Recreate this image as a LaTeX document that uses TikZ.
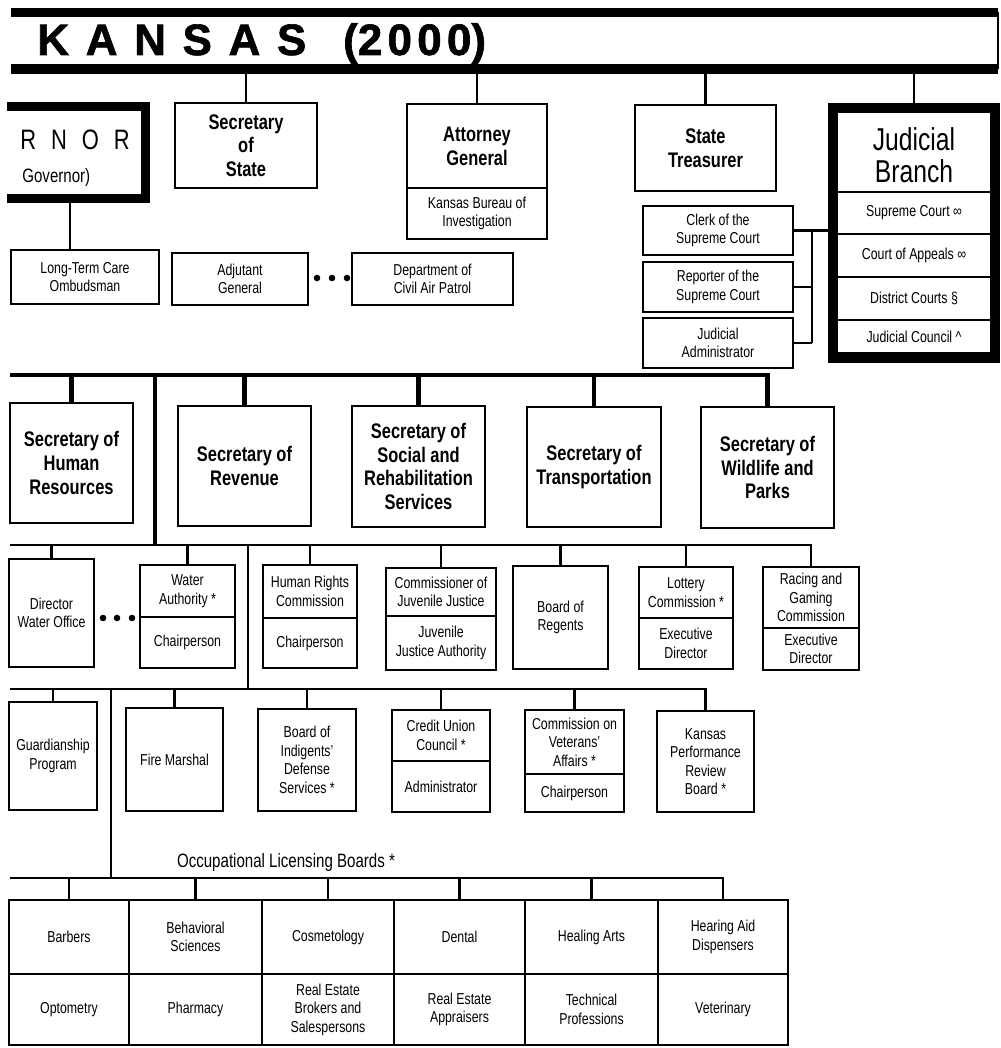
\documentclass[tikz,border=0pt]{standalone}
\usepackage{fontspec}
\setmainfont{Liberation Sans}[FakeStretch=0.78]
\newfontfamily\titlefont{Liberation Sans}[UprightFont={* Bold}, FakeBold=1.5]
\newcommand{\kgap}{\hspace{9.5pt}}
\tikzset{
  org/.style={draw, line width=0.55mm, inner sep=0pt, outer sep=0pt, align=center, font=\fontsize{9}{10.5}\selectfont},
  sz/.style 2 args={minimum width=#1*0.2mm, minimum height=#2*0.2mm},
  secbox/.style={org, font=\fontsize{12}{13.5}\selectfont\bfseries},
  link/.style={line width=0.5mm},
  trunk/.style={line width=0.9mm},
}
\begin{document}
\begin{tikzpicture}[x=0.2mm, y=-0.2mm] %Organograma
\useasboundingbox (0,0) rectangle (1000,1048);
\clip (7,0) rectangle (1000,1048);
	%Faixa do titulo
\coordinate (frTL) at (11,12.5); \coordinate (frTR) at (998,12.5);
\coordinate (frBL) at (11,69); \coordinate (frBR) at (998,69);
\draw[line width=1.8mm] (frTL) -- (frTR);
\draw[line width=2mm] (frBL) -- (frBR);
\draw[link] (frTR) -- (frBR);
\node[anchor=base west, inner sep=0pt, font=\titlefont\fontsize{25}{25}\selectfont] (title) at (37,55) {K\kgap A\kgap N\kgap S\kgap A\kgap S\hspace{21pt}(2\kern3pt0\kern3pt0\kern3pt0)};
	%Primeira linha
\node[draw, line width=1.8mm, sz={185}{92}, inner sep=0pt] (gov) at (52.5,152.5) {};
\node[anchor=west, inner sep=0pt, font=\fontsize{16}{16}\selectfont] (govname) at (20,140) {R\hspace{8.5pt}N\hspace{8.5pt}O\hspace{8.5pt}R};
\node[anchor=west, inner sep=0pt, font=\fontsize{11}{11}\selectfont] (govsub) at (22,177) {Governor)};
\node[secbox, sz={142}{85}] (sos) at (246,145.5) {Secretary\\of\\State};
\node[secbox, sz={140}{84}] (ag) at (477,146) {Attorney\\General};
\node[org, sz={140}{51}, anchor=north] (kbi) at (ag.south) {Kansas Bureau of\\Investigation};
\node[secbox, sz={141}{86}] (treas) at (705.5,148) {State\\Treasurer};
\node[org, sz={156}{42}] (jsc) at (914,213) {Supreme Court ∞};
\node[org, sz={156}{43}] (jca) at (914,255.5) {Court of Appeals ∞};
\node[org, sz={156}{43}] (jdc) at (914,298.5) {District Courts §};
\node[org, sz={156}{33}] (jjc) at (914,336.5) {Judicial Council \^{}};
\node[draw, line width=2mm, sz={162}{250}, inner sep=0pt] (jud) at (914,233) {};
\node[align=center, font=\fontsize{18}{18.5}\selectfont] (jtitle) at (914,155) {Judicial\\Branch};
	%Segunda linha
\node[org, sz={148}{54}] (ltc) at (85,277) {Long-Term Care\\Ombudsman};
\node[org, sz={136}{52}] (adj) at (240,279) {Adjutant\\General};
\foreach \d in {317,332,347} \fill (\d,278) circle (3.3);
\node[org, sz={161}{52}] (cap) at (432.5,279) {Department of\\Civil Air Patrol};
\node[org, sz={150}{49}] (clerk) at (718,230.5) {Clerk of the\\Supreme Court};
\node[org, sz={150}{50}] (reporter) at (718,287) {Reporter of the\\Supreme Court};
\node[org, sz={150}{50}] (jadmin) at (718,343) {Judicial\\Administrator};
\coordinate (jbus) at (812,230);
	%Ligacoes de cima
\draw[link] (sos.north) -- (sos.north |- frBL);
\draw[link] (ag.north) -- (ag.north |- frBL);
\draw[link] (treas.north) -- (treas.north |- frBL);
\draw[link] (jud.north) -- (jud.north |- frBL);
\draw[link] ([xshift=-3mm]ltc.north) -- ([xshift=-3mm]ltc.north |- gov.south);
\draw[link] (clerk.east) -- (clerk.east -| jud.west);
\draw[link] (reporter.east) -- (reporter.east -| jbus);
\draw[link] (jadmin.east) -- (jadmin.east -| jbus);
\draw[link] (clerk.east -| jbus) -- (jadmin.east -| jbus);
	%Secretarios
\node[secbox, sz={123}{120}] (shr) at (71.5,463) {Secretary of\\Human\\Resources};
\node[secbox, sz={133}{120}] (srev) at (244.5,466) {Secretary of\\Revenue};
\node[secbox, sz={133}{121}] (ssrs) at (418.5,466.5) {Secretary of\\Social and\\Rehabilitation\\Services};
\node[secbox, sz={134}{120}] (stra) at (594,467) {Secretary of\\Transportation};
\node[secbox, sz={133}{121}] (swlp) at (767.5,467.5) {Secretary of\\Wildlife and\\Parks};
\coordinate (exL) at (10,375); \coordinate (exJ) at (155,375);
\draw[trunk] (exL) -| (swlp.north);
\foreach \s in {shr,srev,ssrs,stra} \draw[trunk] (\s.north) -- (\s.north |- exL);
	%Terceira linha
\node[org, sz={85}{108}] (dwo) at (51.5,613) {Director\\Water Office};
\foreach \d in {103,117,132} \fill (\d,618) circle (3.3);
\node[org, sz={95}{52}] (wa) at (187.5,591) {Water\\Authority *};
\node[org, sz={95}{51}, anchor=north] (wach) at (wa.south) {Chairperson};
\node[org, sz={94}{53}] (hrc) at (310,591.5) {Human Rights\\Commission};
\node[org, sz={94}{50}, anchor=north] (hrcch) at (hrc.south) {Chairperson};
\node[org, sz={110}{48}] (cjj) at (441,592) {Commissioner of\\Juvenile Justice};
\node[org, sz={110}{54}, anchor=north] (jja) at (cjj.south) {Juvenile\\Justice Authority};
\node[org, sz={95}{103}] (bor) at (560.5,617.5) {Board of\\Regents};
\node[org, sz={94}{51}] (lot) at (686,592.5) {Lottery\\Commission *};
\node[org, sz={94}{51}, anchor=north] (lotdir) at (lot.south) {Executive\\Director};
\node[org, sz={96}{61}] (rgc) at (811,597.5) {Racing and\\Gaming\\Commission};
\node[org, sz={96}{42}, anchor=north] (rgcdir) at (rgc.south) {Executive\\Director};
\coordinate (agL) at (10,545); \coordinate (agJ) at (248,545);
\draw[trunk] (exJ) -- (exJ |- agL);
\draw[link] (agL) -| (rgc.north);
\foreach \s in {dwo,wa,hrc,cjj,bor,lot} \draw[link] (\s.north) -- (\s.north |- agL);
	%Quarta linha
\node[org, sz={88}{108}] (gdn) at (53,756) {Guardianship\\Program};
\node[org, sz={97}{103}] (fire) at (174.5,759.5) {Fire Marshal};
\node[org, sz={98}{102}] (bids) at (307,760) {Board of\\Indigents'\\Defense\\Services *};
\node[org, sz={98}{51}] (cuc) at (441,735.5) {Credit Union\\Council *};
\node[org, sz={98}{51}, anchor=north] (cuadm) at (cuc.south) {Administrator};
\node[org, sz={99}{64}] (cva) at (574.5,742) {Commission on\\Veterans'\\Affairs *};
\node[org, sz={99}{38}, anchor=north] (cvach) at (cva.south) {Chairperson};
\node[org, sz={97}{101}] (kprb) at (705.5,761.5) {Kansas\\Performance\\Review\\Board *};
\coordinate (bdL) at (10,689); \coordinate (bdJ) at (111,689);
\draw[link] (agJ) -- (agJ |- bdL);
\draw[link] (bdL) -| (kprb.north);
\foreach \s in {gdn,fire,bids,cuc,cva} \draw[link] (\s.north) -- (\s.north |- bdL);
	%Conselhos profissionais
\node[font=\fontsize{11}{11}\selectfont] (olb) at (286,862) {Occupational Licensing Boards *};
\node[org, sz={120}{74}] (brb) at (69,937) {Barbers};
\node[org, sz={133}{74}] (bhv) at (195.5,937) {Behavioral\\Sciences};
\node[org, sz={132}{74}] (cos) at (328,937) {Cosmetology};
\node[org, sz={131}{74}] (dnt) at (459.5,937) {Dental};
\node[org, sz={133}{74}] (hla) at (591.5,937) {Healing Arts};
\node[org, sz={130}{74}] (had) at (723,937) {Hearing Aid\\Dispensers};
\node[org, sz={120}{71}, anchor=north] (opt) at (brb.south) {Optometry};
\node[org, sz={133}{71}, anchor=north] (phm) at (bhv.south) {Pharmacy};
\node[org, sz={132}{71}, anchor=north] (reb) at (cos.south) {Real Estate\\Brokers and\\Salespersons};
\node[org, sz={131}{71}, anchor=north] (rea) at (dnt.south) {Real Estate\\Appraisers};
\node[org, sz={133}{71}, anchor=north] (tec) at (hla.south) {Technical\\Professions};
\node[org, sz={130}{71}, anchor=north] (vet) at (had.south) {Veterinary};
\coordinate (olL) at (10,878);
\draw[link] (bdJ) -- (bdJ |- olL);
\draw[link] (olL) -| (had.north);
\foreach \s in {brb,bhv,cos,dnt,hla} \draw[link] (\s.north) -- (\s.north |- olL);
\end{tikzpicture}
\end{document}
